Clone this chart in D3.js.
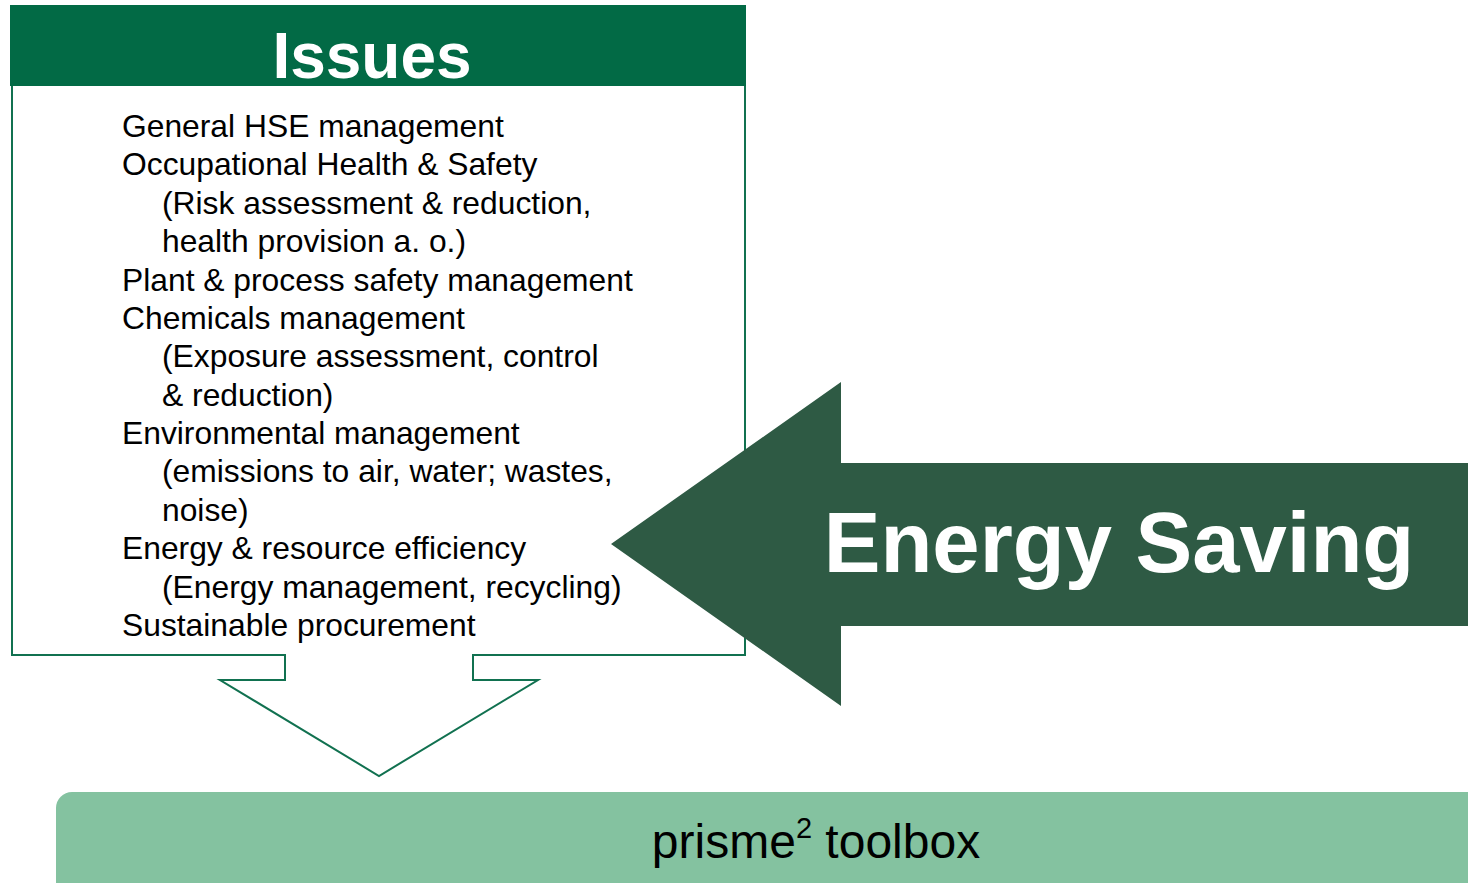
<!DOCTYPE html>
<html>
<head>
<meta charset="utf-8">
<script src="https://cdn.jsdelivr.net/npm/d3@7"></script>
<style>
  html, body { margin: 0; padding: 0; background: #fff; }
  svg { display: block; font-family: "Liberation Sans", Arial, sans-serif; }
</style>
</head>
<body>
<div id="chart"></div>
<script>
// ── content ─────────────────────────────────────────────
const headerTitle = 'Issues';
const issueLines = [
  'General HSE management',
  'Occupational Health & Safety',
  '(Risk assessment & reduction,',
  'health provision a. o.)',
  'Plant & process safety management',
  'Chemicals management',
  '(Exposure assessment, control',
  '& reduction)',
  'Environmental management',
  '(emissions to air, water; wastes,',
  'noise)',
  'Energy & resource efficiency',
  '(Energy management, recycling)',
  'Sustainable procurement'
];
// 0 = main item, 1 = indented sub-line
const issueLevels = [0, 0, 1, 1, 0, 0, 1, 1, 0, 1, 1, 0, 1, 0];
const arrowLabel = 'Energy Saving';
const toolboxName = 'prisme';
const toolboxSup = '2';
const toolboxRest = ' toolbox';

const W = 1468, H = 883;

const svg = d3.select('#chart').append('svg')
  .attr('width', W).attr('height', H)
  .attr('viewBox', `0 0 ${W} ${H}`);

// ── header bar ──────────────────────────────────────────
svg.append('rect')
  .attr('x', 10).attr('y', 5)
  .attr('width', 736).attr('height', 81)
  .attr('fill', '#026a45');

svg.append('text')
  .attr('x', 372).attr('y', 78)
  .attr('text-anchor', 'middle')
  .attr('font-size', 64).attr('font-weight', 'bold')
  .attr('fill', '#fff')
  .text(headerTitle);

// ── box outline with down arrow ─────────────────────────
const outline = d3.path();
outline.moveTo(12, 86);
outline.lineTo(12, 655);
outline.lineTo(285, 655);
outline.lineTo(285, 680);
outline.lineTo(220, 680);
outline.lineTo(379, 776);
outline.lineTo(538, 680);
outline.lineTo(473, 680);
outline.lineTo(473, 655);
outline.lineTo(745, 655);
outline.lineTo(745, 86);

svg.append('path')
  .attr('d', outline.toString())
  .attr('fill', 'none')
  .attr('stroke', '#117150')
  .attr('stroke-width', 2);

// ── issue list ──────────────────────────────────────────
const lineY = d3.scaleLinear()
  .domain([0, issueLines.length - 1])
  .range([137, 636]);
const indentX = d3.scaleOrdinal().domain([0, 1]).range([122, 162]);

svg.append('g')
  .selectAll('text')
  .data(issueLines)
  .join('text')
    .attr('x', (d, i) => indentX(issueLevels[i]))
    .attr('y', (d, i) => lineY(i))
    .attr('font-size', 31.8)
    .attr('fill', '#000')
    .text(d => d);

// ── big left arrow ──────────────────────────────────────
const bigArrow = d3.path();
bigArrow.moveTo(611, 544);
bigArrow.lineTo(841, 382);
bigArrow.lineTo(841, 463);
bigArrow.lineTo(W, 463);
bigArrow.lineTo(W, 626);
bigArrow.lineTo(841, 626);
bigArrow.lineTo(841, 706);
bigArrow.closePath();

svg.append('path')
  .attr('d', bigArrow.toString())
  .attr('fill', '#2e5a44');

svg.append('text')
  .attr('x', 1119).attr('y', 572)
  .attr('text-anchor', 'middle')
  .attr('font-size', 85).attr('font-weight', 'bold')
  .attr('fill', '#fff')
  .text(arrowLabel);

// ── toolbox bar ─────────────────────────────────────────
svg.append('rect')
  .attr('x', 56).attr('y', 792)
  .attr('width', W - 56 + 30).attr('height', 130)
  .attr('rx', 16).attr('ry', 16)
  .attr('fill', '#84c2a0');

const tb = svg.append('text')
  .attr('x', 816).attr('y', 858)
  .attr('text-anchor', 'middle')
  .attr('font-size', 48)
  .attr('fill', '#000');
tb.append('tspan').text(toolboxName);
tb.append('tspan').attr('font-size', 29).attr('dy', -20).text(toolboxSup);
tb.append('tspan').attr('dy', 20).text(toolboxRest);
</script>
</body>
</html>
